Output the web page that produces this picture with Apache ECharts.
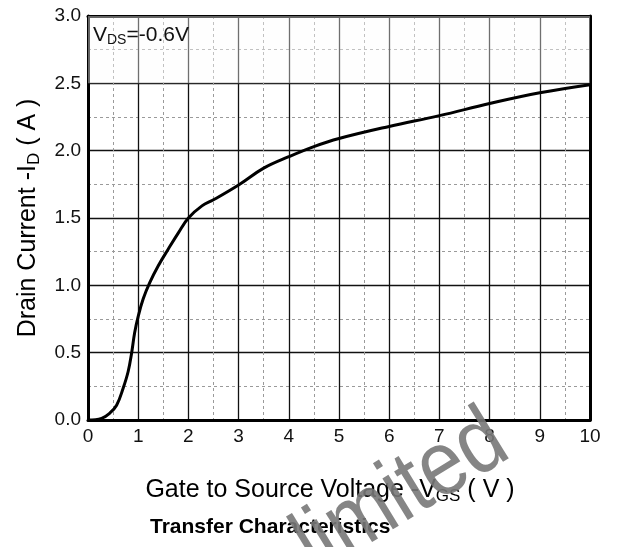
<!DOCTYPE html>
<html>
<head>
<meta charset="utf-8">
<script src="https://cdn.jsdelivr.net/npm/echarts@6/dist/echarts.min.js"></script>
<style>
  html, body { margin: 0; padding: 0; background: #fff; }
  #chart { width: 618px; height: 547px; }
</style>
</head>
<body>
<div id="chart"></div>
<script>
// Gate-source voltage -VGS (V) and drain current -ID (A), VDS = -0.6 V
const vgs = [0, 0.27, 0.43, 0.57, 0.7, 0.8, 0.87, 0.93, 1.0, 1.1, 1.23, 1.4, 1.6, 1.8, 2.0, 2.27, 2.5, 3.0, 3.5, 4.0, 4.5, 5, 6, 7, 8, 9, 10];
const idrain = [0, 0.012, 0.05, 0.11, 0.236, 0.36, 0.5, 0.65, 0.77, 0.9, 1.02, 1.145, 1.27, 1.39, 1.5, 1.59, 1.635, 1.745, 1.87, 1.955, 2.03, 2.09, 2.18, 2.26, 2.35, 2.43, 2.49];

const xTicks = [0, 1, 2, 3, 4, 5, 6, 7, 8, 9, 10];
const yTicks = [0.0, 0.5, 1.0, 1.5, 2.0, 2.5, 3.0];

const FONT = 'Liberation Sans, Arial, sans-serif';
const points = vgs.map((v, i) => [v, idrain[i]]);

const chart = echarts.init(document.getElementById('chart'), null, { renderer: 'canvas' });

const majorLine = { show: true, lineStyle: { color: '#111', width: 1.3, type: 'solid' } };
const minorLine = { show: true, lineStyle: { color: '#9a9a9a', width: 1, type: [3, 3] } };

chart.setOption({
  animation: false,
  backgroundColor: '#fff',
  title: {
    text: 'Transfer Characteristics',
    left: 145,
    top: 512,
    textStyle: { fontFamily: FONT, fontSize: 21, fontWeight: 'bold', color: '#000' }
  },
  grid: { left: 88, right: 28, top: 16, bottom: 127, containLabel: false },
  xAxis: [{
    type: 'value',
    min: xTicks[0],
    max: xTicks[xTicks.length - 1],
    interval: 1,
    position: 'bottom',
    axisLine: { show: true, onZero: false, lineStyle: { color: '#000', width: 3 } },
    axisTick: { show: false },
    axisLabel: { fontFamily: FONT, fontSize: 19, color: '#111', margin: 7 },
    splitLine: majorLine,
    minorTick: { show: false, splitNumber: 2 },
    minorSplitLine: minorLine,
    name: '{t|Gate to Source Voltage -V}{s|GS}{t| ( V )}',
    nameLocation: 'middle',
    nameGap: 56,
    nameTextStyle: {
      padding: [0, 18, 0, 0],
      rich: {
        t: { fontFamily: FONT, fontSize: 25, color: '#000' },
        s: { fontFamily: FONT, fontSize: 17, color: '#000', verticalAlign: 'bottom', padding: [12, 0, 0, 0] }
      }
    }
  }, {
    type: 'value',
    min: xTicks[0],
    max: xTicks[xTicks.length - 1],
    interval: 1,
    position: 'top',
    axisLine: { show: true, onZero: false, lineStyle: { color: '#000', width: 3 } },
    axisTick: { show: false },
    axisLabel: { show: false },
    splitLine: { show: false }
  }],
  yAxis: [{
    type: 'value',
    min: yTicks[0],
    max: yTicks[yTicks.length - 1],
    interval: 0.5,
    position: 'left',
    axisLine: { show: true, onZero: false, lineStyle: { color: '#000', width: 3 } },
    axisTick: { show: false },
    axisLabel: { fontFamily: FONT, fontSize: 19, color: '#111', margin: 7, formatter: v => v.toFixed(1) },
    splitLine: majorLine,
    minorTick: { show: false, splitNumber: 2 },
    minorSplitLine: minorLine,
    name: '{t|Drain Current -I}{s|D}{t| ( A )}',
    nameLocation: 'middle',
    nameGap: 45,
    nameRotate: 90,
    nameTextStyle: {
      rich: {
        t: { fontFamily: FONT, fontSize: 25, color: '#000' },
        s: { fontFamily: FONT, fontSize: 17, color: '#000', verticalAlign: 'bottom', padding: [12, 0, 0, 0] }
      }
    }
  }, {
    type: 'value',
    min: yTicks[0],
    max: yTicks[yTicks.length - 1],
    interval: 0.5,
    position: 'right',
    axisLine: { show: true, onZero: false, lineStyle: { color: '#000', width: 3 } },
    axisTick: { show: false },
    axisLabel: { show: false },
    splitLine: { show: false }
  }],
  series: [{
    type: 'line',
    data: points,
    smooth: 0.4,
    showSymbol: false,
    lineStyle: { color: '#000', width: 3 },
    z: 5,
    markArea: {
      silent: true,
      itemStyle: { color: 'rgba(252,252,252,0.4)' },
      data: [[{ yAxis: 2.5 }, { yAxis: 3.0 }]]
    }
  }],
  graphic: [{
    type: 'text',
    left: 93,
    top: 25,
    z: 10,
    style: {
      text: '{t|V}{s|DS}{t|=-0.6V}',
      rich: {
        t: { fontFamily: FONT, fontSize: 21, fill: '#111' },
        s: { fontFamily: FONT, fontSize: 14, fill: '#111', verticalAlign: 'bottom', padding: [9, 0, 0, 0] }
      }
    }
  }, {
    type: 'text',
    x: 524,
    y: 473,
    rotation: 0.55,
    scaleY: 1.15,
    z: 20,
    style: {
      text: 'limited',
      fontFamily: FONT,
      fontSize: 80,
      fill: 'rgba(120,120,120,0.9)',
      align: 'right',
      verticalAlign: 'bottom'
    }
  }]
});
</script>
</body>
</html>
